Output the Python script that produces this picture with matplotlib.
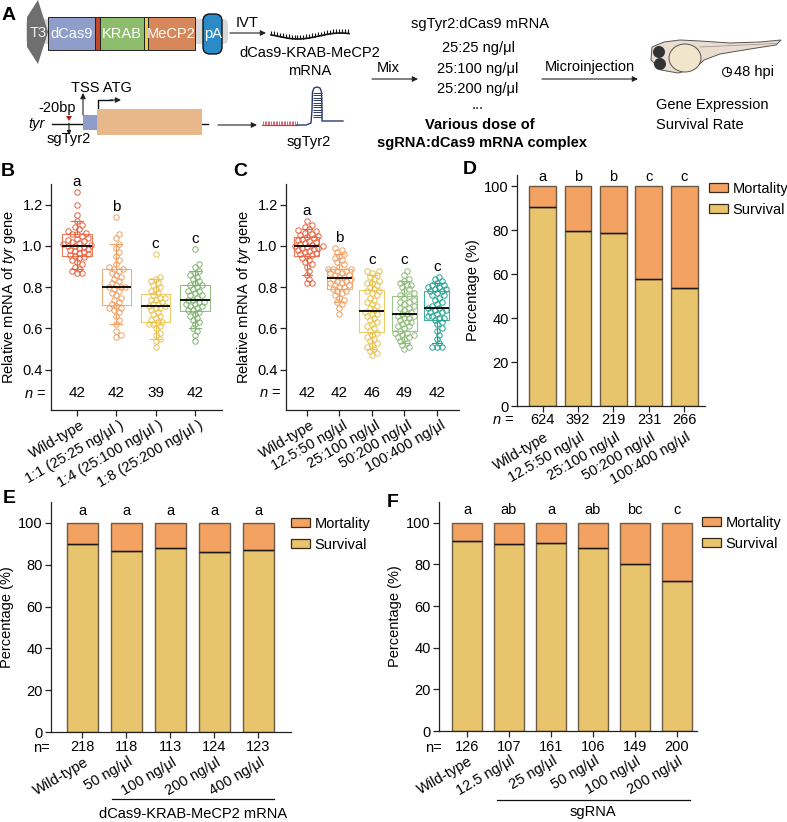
import numpy as np
import matplotlib
matplotlib.use("Agg")
import matplotlib.pyplot as plt
from matplotlib.patches import Rectangle, Polygon, FancyBboxPatch, Ellipse, Circle, Patch
from matplotlib.collections import LineCollection
from matplotlib.transforms import ScaledTranslation

plt.rcParams['font.family'] = ['Liberation Sans', 'DejaVu Sans']
plt.rcParams['font.size'] = 10.5
plt.rcParams['mathtext.fontset'] = 'custom'
plt.rcParams['mathtext.it'] = 'Liberation Sans:italic'
plt.rcParams['mathtext.rm'] = 'Liberation Sans'
plt.rcParams['axes.linewidth'] = 0.9
plt.rcParams['axes.edgecolor'] = '#222222'

FS = 10.5

### data ###

# B: relative tyr mRNA, sgTyr2:dCas9 ratio
b_groups = ["Wild-type", "1:1 (25:25 ng/μl )", "1:4 (25:100 ng/μl )", "1:8 (25:200 ng/μl )"]
b_letters = ["a", "b", "c", "c"]
b_wt = [0.87, 0.87, 0.88, 0.89, 0.90, 0.91, 0.92, 0.93, 0.94, 0.945,
        0.95, 0.955, 0.96, 0.965, 0.97, 0.975, 0.98, 0.985, 0.99, 0.995, 1.00,
        1.00, 1.005, 1.01, 1.015, 1.02, 1.025, 1.03, 1.035, 1.04, 1.05, 1.058,
        1.06, 1.065, 1.07, 1.08, 1.09, 1.10, 1.12, 1.15, 1.20, 1.26]
b_1to1 = [0.56, 0.57, 0.59, 0.62, 0.64, 0.66, 0.68, 0.69, 0.70, 0.70,
          0.71, 0.72, 0.73, 0.74, 0.75, 0.76, 0.77, 0.78, 0.79, 0.80, 0.80,
          0.80, 0.81, 0.82, 0.83, 0.84, 0.85, 0.86, 0.87, 0.88, 0.89, 0.89,
          0.90, 0.91, 0.93, 0.95, 0.97, 0.99, 1.01, 1.04, 1.06, 1.14]
b_1to4 = [0.51, 0.54, 0.55, 0.57, 0.58, 0.60, 0.61, 0.62, 0.62,
          0.63, 0.63, 0.64, 0.65, 0.66, 0.67, 0.68, 0.69, 0.70, 0.70,
          0.71, 0.71, 0.72, 0.72, 0.73, 0.74, 0.74, 0.75, 0.75, 0.76,
          0.77, 0.78, 0.79, 0.80, 0.81, 0.82, 0.83, 0.84, 0.85, 0.96]
b_1to8 = [0.54, 0.57, 0.59, 0.60, 0.62, 0.63, 0.64, 0.65, 0.66, 0.67,
          0.68, 0.69, 0.69, 0.70, 0.71, 0.71, 0.72, 0.72, 0.73, 0.73, 0.74,
          0.74, 0.75, 0.76, 0.76, 0.77, 0.78, 0.78, 0.79, 0.80, 0.81, 0.81,
          0.82, 0.83, 0.84, 0.85, 0.86, 0.87, 0.88, 0.90, 0.91, 0.985]
b_colors = ["#e8623d", "#f0a062", "#e9c24f", "#82b26f"]

# C: relative tyr mRNA, sgTyr2:dCas9 dose
c_groups = ["Wild-type", "12.5:50 ng/μl", "25:100 ng/μl", "50:200 ng/μl", "100:400 ng/μl"]
c_letters = ["a", "b", "c", "c", "c"]
c_wt = [0.82, 0.82, 0.84, 0.86, 0.88, 0.90, 0.91, 0.92, 0.93, 0.94,
        0.95, 0.955, 0.96, 0.965, 0.97, 0.975, 0.98, 0.985, 0.99, 0.99, 0.995,
        1.00, 1.00, 1.005, 1.01, 1.015, 1.02, 1.025, 1.03, 1.035, 1.04, 1.045,
        1.05, 1.055, 1.06, 1.065, 1.07, 1.075, 1.08, 1.09, 1.10, 1.12]
c_d50 = [0.67, 0.70, 0.72, 0.73, 0.74, 0.75, 0.76, 0.77, 0.78, 0.78,
         0.79, 0.80, 0.80, 0.81, 0.81, 0.82, 0.82, 0.83, 0.83, 0.84, 0.84,
         0.85, 0.85, 0.86, 0.86, 0.87, 0.87, 0.88, 0.88, 0.89, 0.89, 0.89,
         0.90, 0.91, 0.92, 0.93, 0.94, 0.95, 0.96, 0.97, 0.98, 0.99]
c_d100 = [0.47, 0.48, 0.49, 0.50, 0.51, 0.52, 0.53, 0.54, 0.55, 0.56, 0.57,
          0.58, 0.59, 0.60, 0.61, 0.62, 0.63, 0.64, 0.65, 0.66, 0.67, 0.67, 0.68,
          0.69, 0.70, 0.71, 0.72, 0.73, 0.74, 0.75, 0.76, 0.77, 0.78, 0.78,
          0.79, 0.80, 0.81, 0.82, 0.82, 0.83, 0.84, 0.85, 0.86, 0.87, 0.88, 0.88]
c_d200 = [0.50, 0.51, 0.52, 0.53, 0.54, 0.55, 0.56, 0.56, 0.57, 0.57, 0.58, 0.58,
          0.59,
          0.60, 0.61, 0.61, 0.62, 0.63, 0.63, 0.64, 0.65, 0.65, 0.66, 0.66,
          0.67,
          0.67, 0.68, 0.69, 0.70, 0.70, 0.71, 0.72, 0.73, 0.73, 0.74, 0.75,
          0.755,
          0.76, 0.77, 0.78, 0.79, 0.80, 0.81, 0.81, 0.82, 0.83, 0.84, 0.86, 0.88]
c_d400 = [0.51, 0.51, 0.51, 0.53, 0.55, 0.57, 0.59, 0.60, 0.62, 0.63,
          0.64, 0.65, 0.65, 0.66, 0.66, 0.67, 0.68, 0.68, 0.69, 0.69, 0.70,
          0.70, 0.71, 0.72, 0.73, 0.74, 0.75, 0.76, 0.76, 0.77, 0.78, 0.78,
          0.79, 0.79, 0.80, 0.80, 0.81, 0.81, 0.82, 0.83, 0.84, 0.85]
c_colors = ["#e8623d", "#f0a062", "#e9c24f", "#8fba7a", "#22a291"]

# D: survival (%) by sgTyr2:dCas9 dose
d_groups = ["Wild-type", "12.5:50 ng/μl", "25:100 ng/μl", "50:200 ng/μl", "100:400 ng/μl"]
d_survival = [90.5, 79.5, 78.5, 57.5, 53.5]
d_n = [624, 392, 219, 231, 266]
d_letters = ["a", "b", "b", "c", "c"]

# E: survival (%) by dCas9-KRAB-MeCP2 mRNA dose
e_groups = ["Wild-type", "50 ng/μl", "100 ng/μl", "200 ng/μl", "400 ng/μl"]
e_survival = [90.0, 86.5, 88.0, 86.0, 87.0]
e_n = [218, 118, 113, 124, 123]
e_letters = ["a", "a", "a", "a", "a"]

# F: survival (%) by sgRNA dose
f_groups = ["Wild-type", "12.5 ng/μl", "25 ng/μl", "50 ng/μl", "100 ng/μl", "200 ng/μl"]
f_survival = [91.5, 90.0, 90.5, 88.0, 80.0, 72.0]
f_n = [126, 107, 161, 106, 149, 200]
f_letters = ["a", "ab", "a", "ab", "bc", "c"]

MORT = "#f3a262"
SURV = "#e8c46c"
BAR_EDGE = "#6b5a45"

### figure helpers ###

W, H = 787, 822
fig = plt.figure(figsize=(W / 100, H / 100), dpi=100)


def px_axes(x0, y0, x1, y1):
    return fig.add_axes([x0 / W, 1 - y1 / H, (x1 - x0) / W, (y1 - y0) / H])


def offset(ax, dx_px, dy_px):
    # x in data, y at the x-axis line, shifted in pixels (down is positive)
    return ax.get_xaxis_transform() + ScaledTranslation(dx_px / 100, -dy_px / 100, fig.dpi_scale_trans)


def style_axes(ax):
    for s in ["top", "right"]:
        ax.spines[s].set_visible(False)
    ax.tick_params(direction='out', length=4, width=0.9, labelsize=10.5, colors='#222222',
                   labelcolor='black', pad=2)


def rotated_labels(ax, labels, dx, dy):
    for i, lab in enumerate(labels):
        ax.text(i, 0, lab, transform=offset(ax, dx, dy), rotation=30, ha='right', va='center',
                rotation_mode='anchor', fontsize=FS)


def swarm_x(vals, ax, diam_px=4.6):
    bb = ax.get_position()
    ax_h = bb.height * H
    ax_w = bb.width * W
    y0, y1 = ax.get_ylim()
    x0, x1 = ax.get_xlim()
    py = ax_h / (y1 - y0)
    px = ax_w / (x1 - x0)
    vals = np.asarray(vals)
    order = np.argsort(vals, kind='stable')
    placed = []
    xs = np.zeros(len(vals))
    step = diam_px * 0.5
    for i in order:
        yv = vals[i] * py
        k = 0
        found = None
        while found is None:
            cands = [0.0] if k == 0 else [k * step, -k * step]
            for c in cands:
                if all((c - a) ** 2 + (yv - b) ** 2 >= diam_px ** 2 for a, b in placed):
                    found = c
                    break
            k += 1
        placed.append((found, yv))
        xs[i] = found / px
    return xs


def dot_box(ax, data, colors, letters, widths):
    pos = np.arange(len(data))
    bp = ax.boxplot(data, positions=pos, widths=widths, whis=(5, 95), showfliers=False,
                    capwidths=widths * 0.4, patch_artist=False, manage_ticks=False,
                    medianprops=dict(color='black', lw=1.3, zorder=5))
    for i, col in enumerate(colors):
        bp['boxes'][i].set(color=col, lw=0.8, alpha=0.85)
        for w in bp['whiskers'][2 * i:2 * i + 2]:
            w.set(color=col, lw=0.8)
        for c in bp['caps'][2 * i:2 * i + 2]:
            c.set(color=col, lw=0.8)
    for i, vals in enumerate(data):
        xs = swarm_x(vals, ax)
        ax.plot(pos[i] + xs, vals, 'o', ms=3.9, mfc='none', mec=colors[i], mew=0.7, zorder=4, clip_on=False)
        ax.text(pos[i], max(vals) + 0.05, letters[i], ha='center', va='center', fontsize=FS + 0.5, clip_on=False)
        ax.text(pos[i], 0.285, str(len(vals)), ha='center', va='center', fontsize=FS + 0.5)
    ax.set_xticks(pos)
    ax.set_xticklabels([])
    ax.set_yticks([0.4, 0.6, 0.8, 1.0, 1.2])
    ax.set_yticklabels(["0.4", "0.6", "0.8", "1.0", "1.2"])
    ax.set_ylabel(r"Relative mRNA of $\mathit{tyr}$ gene", fontsize=FS, labelpad=3)


def stacked_bars(ax, survival, ns, letters, groups, width, n_dy, lab_dy, letter_y):
    x = np.arange(len(survival))
    surv = np.array(survival)
    mort = 100 - surv
    ax.bar(x, surv, width, color=SURV, edgecolor=BAR_EDGE, lw=1.0, zorder=2)
    ax.bar(x, mort, width, bottom=surv, color=MORT, edgecolor=BAR_EDGE, lw=1.0, zorder=2)
    ax.hlines(surv, x - width / 2, x + width / 2, color='#1a1a1a', lw=1.0, zorder=3)
    for i in range(len(x)):
        ax.text(x[i], letter_y, letters[i], ha='center', va='center', fontsize=FS, clip_on=False)
        ax.text(x[i], 0, str(ns[i]), transform=offset(ax, 0, n_dy), ha='center', va='center', fontsize=FS)
    ax.set_xticks(x)
    ax.set_xticklabels([])
    ax.set_yticks([0, 20, 40, 60, 80, 100])
    ax.set_ylabel("Percentage (%)", fontsize=FS, labelpad=3)
    rotated_labels(ax, groups, 5, lab_dy)


def add_legend(ax, x_px, y_px):
    handles = [Patch(facecolor=MORT, edgecolor='#3a2a1a', lw=0.9, label="Mortality"),
               Patch(facecolor=SURV, edgecolor='#3a2a1a', lw=0.9, label="Survival")]
    ax.legend(handles=handles, loc='upper left', bbox_to_anchor=(x_px / W, 1 - y_px / H),
              bbox_transform=fig.transFigure, frameon=False, borderpad=0, borderaxespad=0,
              handlelength=1.3, handleheight=0.55, handletextpad=0.3, labelspacing=0.45, fontsize=FS)


### panel A: schematic ###

axA = fig.add_axes([0, 0, 1, 1])
axA.set_xlim(0, W)
axA.set_ylim(H, 0)
axA.axis('off')

axA.add_patch(FancyBboxPatch((26, 19), 202, 25, boxstyle="round,pad=0,rounding_size=5", fc='#d9d9d9', ec='none'))
axA.add_patch(Polygon([(27, 17), (38, 0), (48, 32), (38, 64), (27, 47)], closed=True, fc='#6f6f6f', ec='none'))
axA.text(38, 33, "T3", color='#eeeeee', ha='center', va='center', fontsize=FS)
blocks = [(48, 47, '#8e9dc9'), (95, 5, '#c2462a'), (100, 44, '#8dbd6c'), (144, 4, '#e8cf45'), (148, 47, '#d8875a')]
for bx, bw, bc in blocks:
    axA.add_patch(Rectangle((bx, 17), bw, 33, fc=bc, ec='#222222', lw=0.7))
for tx, tt in [(71.5, "dCas9"), (122, "KRAB"), (171.5, "MeCP2")]:
    axA.text(tx, 34, tt, color='white', ha='center', va='center', fontsize=FS)
axA.add_patch(FancyBboxPatch((203, 14), 19, 40, boxstyle="round,pad=0,rounding_size=7", fc='#2b8bc6', ec='#111111', lw=1))
axA.text(212.5, 34, "pA", color='white', ha='center', va='center', fontsize=FS)

arrow = dict(arrowstyle='-|>', color='#222222', lw=0.8, mutation_scale=8, shrinkA=0, shrinkB=0)
axA.annotate('', xy=(266, 33), xytext=(230, 33), arrowprops=arrow)
axA.text(247, 23, "IVT", ha='center', va='center', fontsize=FS)

# mRNA squiggle
sx = np.linspace(271, 349, 160)
sy = 36 + 3 * np.sin(np.linspace(-0.4, 1.7 * np.pi, 160))
axA.plot(sx, sy, color='#111111', lw=1.2)
tick_x = sx[::6]
tick_y = sy[::6]
axA.add_collection(LineCollection([[(a, b), (a, b - 4)] for a, b in zip(tick_x, tick_y)], colors='#111111', lw=0.8))
axA.text(310, 53, "dCas9-KRAB-MeCP2", ha='center', va='center', fontsize=FS)
axA.text(310, 71, "mRNA", ha='center', va='center', fontsize=FS)

# tyr locus
axA.plot([52, 208], [124, 124], color='#111111', lw=1.0, zorder=1)
axA.add_patch(Rectangle((83, 115), 14, 15, fc='#8e9dc9', ec='none', zorder=3))
axA.add_patch(Rectangle((97, 109), 105, 26, fc='#e8b88a', ec='none', zorder=3))
axA.text(37, 124, "tyr", style='italic', ha='center', va='center', fontsize=FS)
axA.text(101, 88, "TSS ATG", ha='center', va='center', fontsize=FS)
axA.annotate('', xy=(83, 93), xytext=(83, 115), arrowprops=arrow)
axA.plot([98, 98, 112], [110, 100, 100], color='#111111', lw=1.0)
axA.annotate('', xy=(121, 100), xytext=(110, 100), arrowprops=arrow)
axA.text(57, 108, "-20bp", ha='center', va='center', fontsize=FS)
axA.add_patch(Polygon([(66, 116), (72, 116), (69, 121)], closed=True, fc='#b01c1c', ec='none', zorder=3))
axA.annotate('', xy=(69, 135), xytext=(69, 123), arrowprops=dict(arrowstyle='-|>', color='#222222', lw=0.8,
                                                                     mutation_scale=6, shrinkA=0, shrinkB=0))
axA.text(69, 139, "sgTyr2", ha='center', va='center', fontsize=FS)
axA.annotate('', xy=(257, 125), xytext=(218, 125), arrowprops=arrow)

# sgRNA
axA.plot([262, 297], [125, 125], color='#c8374a', lw=0.9)
axA.add_collection(LineCollection([[(a, 125), (a, 121)] for a in np.arange(263, 297, 1.6)], colors='#d0506a', lw=0.6))
hx = [297, 306, 311, 312, 312.5, 314, 317, 320, 321.5, 322, 322, 343]
hy = [125, 125, 123, 110, 92, 88, 87, 88, 92, 110, 121, 121]
axA.plot(hx, hy, color='#2b3a6b', lw=1.0)
axA.add_collection(LineCollection([[(312.5, yy), (321.5, yy)] for yy in np.arange(93, 119, 2.4)], colors='#2b3a6b', lw=0.7))
axA.text(309, 142, "sgTyr2", ha='center', va='center', fontsize=FS)

# mixing and injection
axA.text(388, 68, "Mix", ha='center', va='center', fontsize=FS)
axA.annotate('', xy=(418, 79), xytext=(372, 79), arrowprops=arrow)
axA.text(480, 24, "sgTyr2:dCas9 mRNA", ha='center', va='center', fontsize=FS)
for yy, tt in [(48, "25:25 ng/μl"), (69, "25:100 ng/μl"), (89, "25:200 ng/μl"), (105, "...")]:
    axA.text(478, yy, tt, ha='center', va='center', fontsize=FS)
axA.text(480, 125, "Various dose of", ha='center', va='center', fontsize=FS, fontweight='bold')
axA.text(482, 143, "sgRNA:dCas9 mRNA complex", ha='center', va='center', fontsize=FS, fontweight='bold')
axA.text(590, 67, "Microinjection", ha='center', va='center', fontsize=FS)
axA.annotate('', xy=(638, 79), xytext=(542, 79), arrowprops=arrow)

# zebrafish larva
body = [(652, 47), (664, 42), (680, 40), (700, 41), (730, 43), (760, 42), (781, 40),
        (776, 45), (750, 49), (720, 54), (704, 60), (694, 69), (678, 73), (661, 70), (651, 60)]
axA.add_patch(Polygon(body, closed=True, fc='#e8ddcf', ec='#555555', lw=0.7))
axA.plot([700, 776], [47, 43.5], color='#9a8f82', lw=0.5)
axA.add_patch(Ellipse((685, 58), 32, 28, fc='#f1e6cb', ec='#555555', lw=0.7))
axA.add_patch(Circle((659, 52), 6, fc='#333333', ec='none'))
axA.add_patch(Circle((660, 64), 6, fc='#333333', ec='none'))
axA.add_patch(Circle((727, 72), 4.5, fill=False, ec='#111111', lw=0.8))
axA.plot([727, 727, 730], [68.5, 72, 72], color='#111111', lw=0.8)
axA.text(734, 72, "48 hpi", ha='left', va='center', fontsize=FS)
axA.text(656, 105, "Gene Expression", ha='left', va='center', fontsize=FS)
axA.text(656, 125, "Survival Rate", ha='left', va='center', fontsize=FS)

# panel letters
for lx, ly, lt in [(9, 15, "A"), (8, 172, "B"), (240, 172, "C"), (470, 170, "D"), (9, 498, "E"), (393, 502, "F")]:
    axA.text(lx, ly, lt, ha='center', va='center', fontsize=14, fontweight='bold')
axA.text(46, 394, r"$\mathit{n}$ =", ha='right', va='center', fontsize=FS)
axA.text(281, 393, r"$\mathit{n}$ =", ha='right', va='center', fontsize=FS)
axA.text(514, 420, r"$\mathit{n}$ =", ha='right', va='center', fontsize=FS)
axA.text(50, 748, "n=", ha='right', va='center', fontsize=FS)
axA.text(442, 748, "n=", ha='right', va='center', fontsize=FS)

### panel B ###
axB = px_axes(51, 184, 222, 410)
axB.set_xlim(-0.66, 3.69)
axB.set_ylim(0.205, 1.30)
style_axes(axB)
dot_box(axB, [b_wt, b_1to1, b_1to4, b_1to8], b_colors, b_letters, 0.75)
rotated_labels(axB, b_groups, 7, 14)

### panel C ###
axC = px_axes(286, 184, 459, 410)
axC.set_xlim(-0.646, 4.68)
axC.set_ylim(0.205, 1.30)
style_axes(axC)
dot_box(axC, [c_wt, c_d50, c_d100, c_d200, c_d400], c_colors, c_letters, 0.77)
rotated_labels(axC, c_groups, 7, 14)

### panel D ###
axD = px_axes(517, 175, 705, 406)
axD.set_xlim(-0.72, 4.58)
axD.set_ylim(0, 105)
style_axes(axD)
stacked_bars(axD, d_survival, d_n, d_letters, d_groups, 0.76, 14, 30, 104)
add_legend(axD, 709, 182)

### panel E ###
axE = px_axes(51, 502, 291, 732)
axE.set_xlim(-0.71, 4.74)
axE.set_ylim(0, 110)
style_axes(axE)
stacked_bars(axE, e_survival, e_n, e_letters, e_groups, 0.70, 15, 29, 105.5)
add_legend(axE, 291, 517)
axE.plot([0.67, 4.35], [-0.29, -0.29], transform=axE.get_xaxis_transform(), color='#111111', lw=0.9, clip_on=False)
axE.text(2.51, -0.355, "dCas9-KRAB-MeCP2 mRNA", transform=axE.get_xaxis_transform(), ha='center', va='center', fontsize=FS)

### panel F ###
axF = px_axes(439, 502, 697, 731)
axF.set_xlim(-0.667, 5.48)
axF.set_ylim(0, 110)
style_axes(axF)
stacked_bars(axF, f_survival, f_n, f_letters, f_groups, 0.71, 16, 29, 106)
add_legend(axF, 702, 516)
axF.plot([0.71, 5.31], [-0.30, -0.30], transform=axF.get_xaxis_transform(), color='#111111', lw=0.9, clip_on=False)
axF.text(3.0, -0.355, "sgRNA", transform=axF.get_xaxis_transform(), ha='center', va='center', fontsize=FS)

fig.savefig("out.png", dpi=100)
